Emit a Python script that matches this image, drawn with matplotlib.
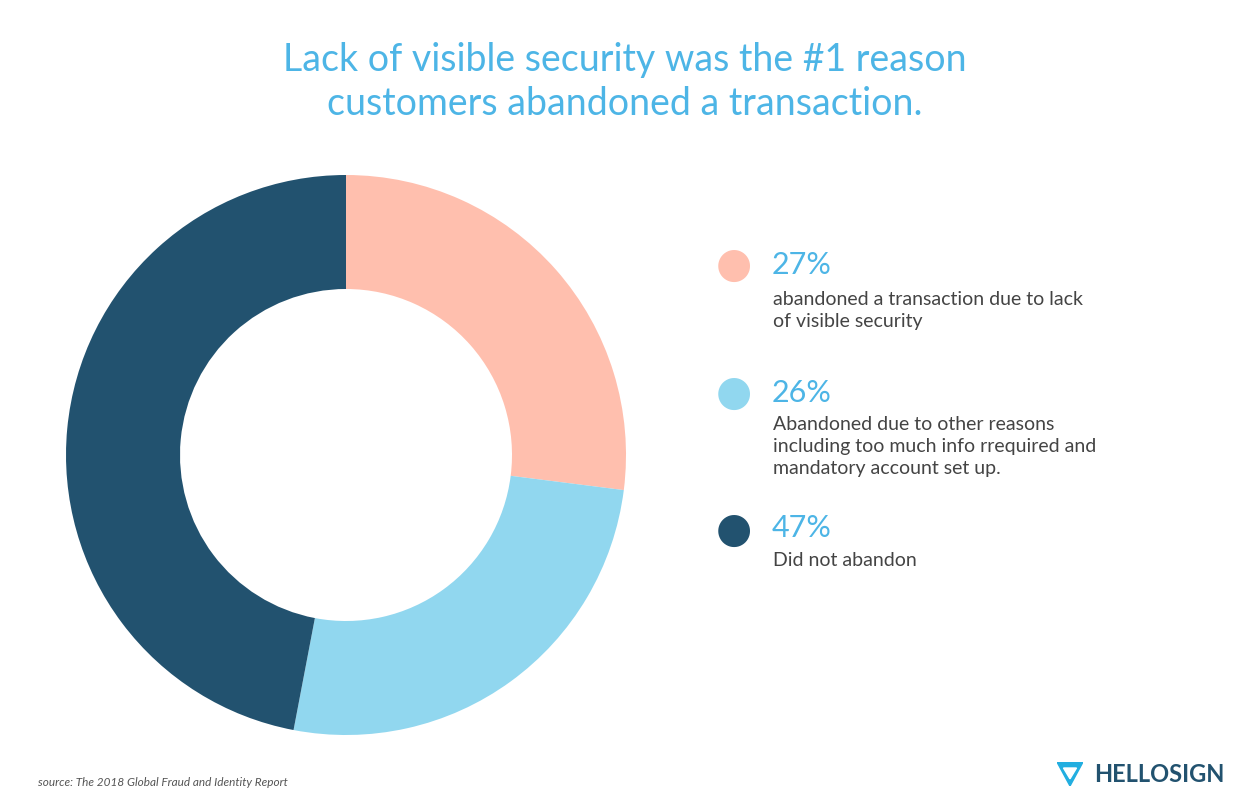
import matplotlib
matplotlib.use("Agg")
import matplotlib.pyplot as plt
from matplotlib.patches import Polygon

values = [27, 26, 47]
pct_labels = ["27%", "26%", "47%"]
descriptions = [
    "abandoned a transaction due to lack\nof visible security",
    "Abandoned due to other reasons\nincluding too much info rrequired and\nmandatory account set up.",
    "Did not abandon",
]
colors = ["#FFBFAE", "#91D7EF", "#22526F"]
title = "Lack of visible security was the #1 reason\ncustomers abandoned a transaction."
source = "source: The 2018 Global Fraud and Identity Report"

W, H = 1250, 811
fig = plt.figure(figsize=(12.5, 8.11), dpi=100)
fig.patch.set_facecolor("white")

def fx(x): return x / W
def fy(y): return 1 - y / H

cx, cy, R = 346, 455, 280
ax = fig.add_axes([fx(cx - R), fy(cy + R), 2 * R / W, 2 * R / H])
ax.pie(values, colors=colors, startangle=90, counterclock=False, radius=1,
       wedgeprops=dict(width=1 - 166 / 280, linewidth=0))
ax.set_xlim(-1, 1); ax.set_ylim(-1, 1)
ax.set_aspect("auto")
ax.axis("off")

fig.text(0.5, fy(82), title, ha="center", va="center", fontsize=27,
         color="#4DB5E6", family="Lato", linespacing=1.3)

dot_y = [265, 393, 530]
pct_y = [265, 393, 528]
desc_y = [301, 426, 562]
for i in range(3):
    fig.text(fx(734), fy(dot_y[i]), "●", ha="center", va="center",
             fontsize=30, color=colors[i])
    fig.text(fx(772), fy(pct_y[i]), pct_labels[i], ha="left", va="center",
             fontsize=22, color="#4DB5E6", family="Lato")
    fig.text(fx(773), fy(desc_y[i] - 10), descriptions[i], ha="left", va="top",
             fontsize=14, color="#444444", family="Lato", linespacing=1.35)

fig.text(fx(38), fy(782), source, ha="left", va="center", fontsize=8.5,
         color="#555555", style="italic", family="Lato")

fig.text(fx(1225), fy(774), "HELLOSIGN", ha="right", va="center",
         fontsize=17, fontweight="bold", color="#22526F", family="Lato")
logo = fig.add_axes([fx(1057), fy(786), 26 / W, 24 / H])
logo.add_patch(Polygon([[0, 1], [1, 1], [0.5, 0]], closed=True, color="#22AEE0"))
logo.add_patch(Polygon([[0.25, 0.75], [0.75, 0.75], [0.5, 0.3]], closed=True, color="white"))
logo.set_xlim(0, 1); logo.set_ylim(0, 1); logo.axis("off")

fig.savefig("out.png", dpi=100, facecolor="white")
